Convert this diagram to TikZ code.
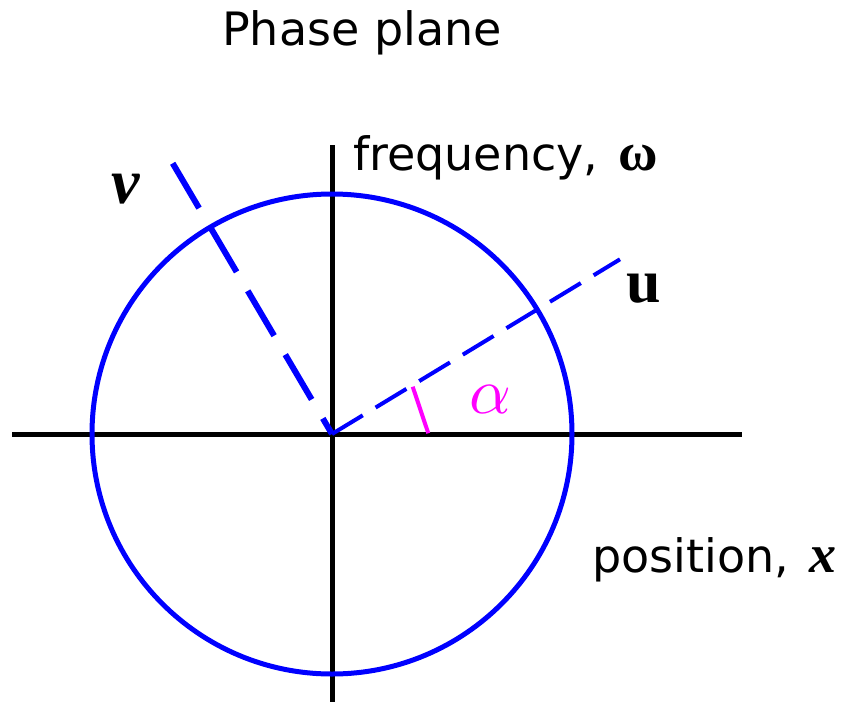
\documentclass[tikz,border=0pt]{standalone}
\usepackage{fontspec}
\setmainfont{DejaVu Sans}
\newfontfamily\seriffont{Liberation Serif}
\definecolor{pblue}{RGB}{0,0,255}
\definecolor{pmag}{RGB}{255,0,255}
\begin{document}
\begin{tikzpicture}[x=1pt,y=-1pt,
  axis/.style={line width=5pt,black},
  circ/.style={line width=5pt,pblue},
  ulinestyle/.style={line width=4pt,pblue,dash pattern=on 36pt off 15pt},
  vlinestyle/.style={line width=6pt,pblue,dash pattern=on 52pt off 22pt},
  anglemark/.style={line width=4pt,pmag},
  lbl/.style={inner sep=0pt,anchor=base west,font=\fontsize{46}{48}\selectfont}]
\useasboundingbox (0,0) rectangle (847,702);
\coordinate (O) at (332,434);
\coordinate (xl) at (12,434);
\coordinate (xr) at (742,434);
\coordinate (yt) at (332,145);
\coordinate (yb) at (332,702);
\coordinate (uend) at (620,259.3);
\coordinate (vend) at (172.7,163.3);
\coordinate (a1) at (428.3,433.3);
\coordinate (a2) at (412.7,386.7);
\draw[axis] (xl) -- (xr);
\draw[axis] (yt) -- (yb);
\draw[circ] (O) circle[radius=240];
\draw[ulinestyle] (O) -- (uend);
\draw[vlinestyle] (vend) -- (O);
\draw[anglemark] (a1) -- (a2);
\node[lbl] (title) at (222,45) {Phase plane};
\node[lbl] (freq) at (353,170) {frequency,\hspace{20pt}{\fontsize{54}{54}\selectfont\seriffont\bfseries ω}};
\node[lbl] (pos) at (592,572) {position,\hspace{20pt}{\fontsize{54}{54}\selectfont\seriffont\bfseries\itshape x}};
\node[inner sep=0pt,anchor=base west] (ulab) at (626,302) {\fontsize{62}{62}\selectfont\seriffont\bfseries u};
\node[inner sep=0pt,anchor=base west] (vlab) at (111,203) {\fontsize{64}{64}\selectfont\seriffont\bfseries\itshape v};
\node[inner sep=0pt,anchor=base west,text=pmag] (alab) at (469,413) {\scalebox{6.5}{$\alpha$}};
\end{tikzpicture}
\end{document}
